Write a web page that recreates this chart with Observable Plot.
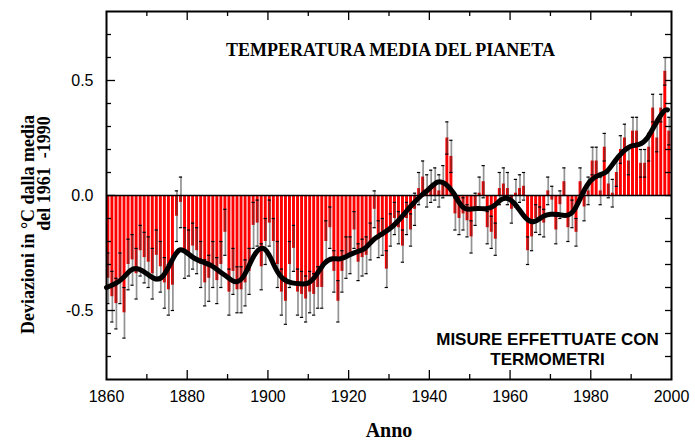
<!DOCTYPE html>
<html><head><meta charset="utf-8">
<script src="https://cdn.jsdelivr.net/npm/d3@7"></script>
<script src="https://cdn.jsdelivr.net/npm/@observablehq/plot@0.6"></script>
<style>
html,body{margin:0;padding:0;background:#fff;}
</style>
</head><body><div id="chart"></div>
<script>
// ---- data ----
const firstYear = 1860;
const anomalies = [
  -0.36,-0.44,-0.47,-0.36,-0.51,-0.30,-0.28,-0.34,-0.24,-0.27, // 1860s
  -0.29,-0.34,-0.26,-0.31,-0.38,-0.41,-0.39,-0.09,-0.03,-0.25, // 1870s
  -0.25,-0.22,-0.24,-0.30,-0.38,-0.36,-0.30,-0.37,-0.30,-0.16, // 1880s
  -0.42,-0.33,-0.41,-0.41,-0.38,-0.33,-0.13,-0.12,-0.31,-0.20, // 1890s
  -0.12,-0.20,-0.30,-0.42,-0.46,-0.30,-0.23,-0.42,-0.43,-0.45, // 1900s
  -0.42,-0.43,-0.40,-0.40,-0.20,-0.14,-0.33,-0.46,-0.33,-0.27, // 1910s
  -0.26,-0.15,-0.29,-0.27,-0.26,-0.20,-0.06,-0.19,-0.18,-0.32, // 1920s
  -0.15,-0.10,-0.14,-0.22,-0.10,-0.15,-0.06, 0.03, 0.08, 0.02, // 1930s
   0.04, 0.05, 0.02, 0.06, 0.25, 0.17,-0.08,-0.10,-0.08,-0.11, // 1940s
  -0.18,-0.06, 0.01, 0.06,-0.14,-0.16,-0.19, 0.03, 0.05, 0.03, // 1950s
  -0.06, 0.01, 0.03, 0.04,-0.24,-0.18,-0.10,-0.11,-0.12, 0.02, // 1960s
  -0.02,-0.15,-0.04, 0.06,-0.14,-0.08,-0.16, 0.06,-0.05, 0.02, // 1970s
   0.15, 0.15, 0.02, 0.21, 0.05, 0.01, 0.10, 0.20, 0.25, 0.15, // 1980s
   0.28, 0.28, 0.14, 0.14, 0.21, 0.38, 0.25, 0.38, 0.54, 0.28  // 1990s
];
// error-bar half widths, one per decade (1860s ... 1990s)
const decadeError = [0.11,0.11,0.10,0.10,0.10,0.09,0.08,0.07,0.07,0.07,0.06,0.06,0.06,0.06];

const smoothYears = [1860,1862,1864,1866,1868,1870,1872,1874,1876,1878,1880,1882,1884,1886,1888,1890,1892,1894,1896,1898,
  1900,1902,1904,1906,1908,1910,1912,1914,1916,1918,1920,1922,1924,1926,1928,1930,1932,1934,1936,1938,
  1940,1942,1944,1946,1948,1950,1952,1954,1956,1958,1960,1962,1964,1966,1968,1970,1972,1974,1976,1978,
  1980,1982,1984,1986,1988,1990,1992,1994,1996,1998,1999];
const smoothValues = [-0.40,-0.385,-0.36,-0.325,-0.32,-0.34,-0.362,-0.35,-0.29,-0.238,-0.25,-0.275,-0.29,-0.305,-0.33,-0.355,-0.375,-0.35,-0.28,-0.232,
  -0.25,-0.32,-0.365,-0.38,-0.384,-0.38,-0.345,-0.295,-0.275,-0.275,-0.26,-0.245,-0.23,-0.195,-0.17,-0.147,-0.115,-0.075,-0.035,0.0,
  0.03,0.058,0.05,0.01,-0.045,-0.06,-0.056,-0.058,-0.045,-0.016,-0.018,-0.055,-0.10,-0.113,-0.093,-0.082,-0.083,-0.086,-0.06,0.01,
  0.065,0.088,0.105,0.15,0.19,0.215,0.222,0.25,0.31,0.365,0.372];

const xLabelTicks = [1860,1880,1900,1920,1940,1960,1980,2000];
const xMajorTicks = [1880,1900,1920,1940,1960,1980];
const xMinorTicks = [1870,1890,1910,1930,1950,1970,1990];
const yLabelTicks = [-0.5,0,0.5];
const yMinorTicks = [-0.7,-0.6,-0.4,-0.3,-0.2,-0.1,0.1,0.2,0.3,0.4,0.6,0.7];

const title = "TEMPERATURA MEDIA DEL PIANETA";
const note = "MISURE EFFETTUATE CON\nTERMOMETRI";
const xTitle = "Anno";
const yTitle1 = "Deviazioni in °C dalla media";
const yTitle2 = "del 1961  -1990";

// ---- table ----
const data = anomalies.map((value, i) => {
  const year = firstYear + i;
  return {year, value, err: decadeError[Math.floor(i / 10)]};
});
const smooth = smoothYears.map((year, i) => ({year, value: smoothValues[i]}));

// ---- layout ----
const W = 695, H = 445;
const mt = 11, mb = 66, ml = 106, mr = 24;
const plotW = W - ml - mr, plotH = H - mt - mb;
const serif = "'Liberation Serif','Times New Roman',Times,serif";
const sans = "'Liberation Sans',Arial,Helvetica,sans-serif";

const ticksY = (vals, len, side) => Plot.tickY(vals, {
  y: d => d, stroke: "black", strokeWidth: 1.3,
  ...(side === "left" ? {insetRight: plotW - len} : {insetLeft: plotW - len})
});
const ticksX = (vals, len, side) => Plot.tickX(vals, {
  x: d => d, stroke: "black", strokeWidth: 1.3,
  ...(side === "bottom" ? {insetTop: plotH - len} : {insetBottom: plotH - len})
});

const chart = Plot.plot({
  width: W, height: H,
  marginTop: mt, marginBottom: mb, marginLeft: ml, marginRight: mr,
  x: {domain: [1860, 2000], axis: null},
  y: {domain: [-0.8, 0.8], axis: null},
  style: {fontFamily: sans, fontSize: "16px", background: "white", color: "black", overflow: "visible"},
  marks: [
    Plot.rect(data, {x1: "year", x2: d => d.year + 1, y1: 0, y2: "value", fill: "#ff0000", insetLeft: 0.4, insetRight: 0.7}),
    Plot.ruleX(data, {x: d => d.year + 0.45, y1: d => d.value - d.err, y2: d => d.value + d.err,
      stroke: "#3a3a3a", strokeOpacity: 0.55, strokeWidth: 1.7}),
    Plot.ruleY(data, {y: d => d.value - d.err, x1: d => d.year + 0.05, x2: d => d.year + 0.85, stroke: "black", strokeWidth: 1.2}),
    Plot.ruleY(data, {y: d => d.value + d.err, x1: d => d.year + 0.05, x2: d => d.year + 0.85, stroke: "black", strokeWidth: 1.2}),
    Plot.ruleY([0], {stroke: "black", strokeWidth: 1.6}),
    Plot.line(smooth, {x: "year", y: "value", stroke: "black", strokeWidth: 5, curve: "natural", strokeLinecap: "round"}),
    Plot.frame({stroke: "black", strokeWidth: 2}),
    ticksY(yLabelTicks, 9, "left"), ticksY(yMinorTicks, 5, "left"),
    ticksY(yLabelTicks, 6, "right"), ticksY(yMinorTicks, 6, "right"),
    ticksX(xMajorTicks, 9, "bottom"), ticksX(xMinorTicks, 5, "bottom"),
    ticksX(xMajorTicks, 9, "top"), ticksX(xMinorTicks, 5, "top"),
    Plot.axisX({ticks: xLabelTicks, tickSize: 0, tickPadding: 11, tickFormat: d => `${d}`, fontSize: 16, label: null}),
    Plot.axisY({ticks: yLabelTicks, tickSize: 0, tickPadding: 13, tickFormat: d => d.toFixed(1), fontSize: 16, label: null}),
    Plot.text([title], {frameAnchor: "top", dx: 1.5, dy: 39, text: d => d, fontFamily: serif, fontWeight: "bold", fontSize: 18, lineAnchor: "middle"}),
    Plot.text([note], {frameAnchor: "bottom", dx: 158.5, dy: -31, text: d => d, fontFamily: sans, fontWeight: "bold", fontSize: 17, lineHeight: 1.2, lineAnchor: "middle"}),
    Plot.text([xTitle], {frameAnchor: "bottom", dy: 51, text: d => d, fontFamily: serif, fontWeight: "bold", fontSize: 20, lineAnchor: "middle"}),
    Plot.text([yTitle1], {frameAnchor: "left", dx: -78, dy: 29, rotate: -90, text: d => d, textAnchor: "middle", fontFamily: serif, fontWeight: "bold", fontSize: 18, lineAnchor: "middle"}),
    Plot.text([yTitle2], {frameAnchor: "left", dx: -62, dy: -22, rotate: -90, text: d => d, textAnchor: "middle", fontFamily: serif, fontWeight: "bold", fontSize: 18, lineAnchor: "middle"})
  ]
});
d3.select(chart).selectAll("text").style("white-space", "pre");
document.getElementById("chart").appendChild(chart);
</script>
</body></html>
